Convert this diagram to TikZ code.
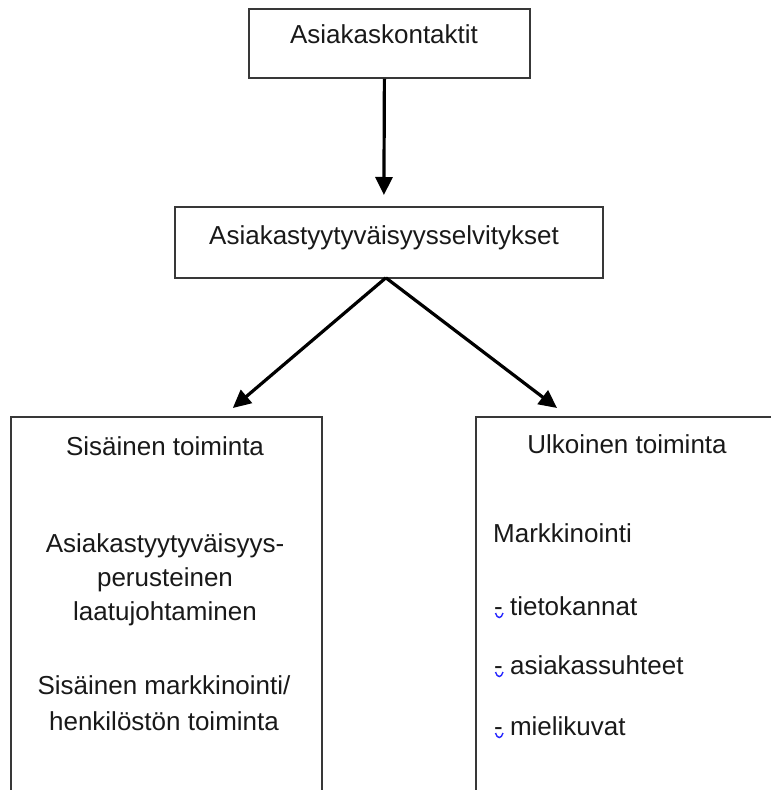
\documentclass[tikz,border=0pt]{standalone}
\usepackage{fontspec}
\setmainfont{Liberation Sans}
\usetikzlibrary{arrows.meta,calc}
\begin{document}
\begin{tikzpicture}[x=1pt,y=-1pt,
  box/.style={draw=black!78, line width=1.8pt, inner sep=0pt, anchor=north west},
  txt/.style={font=\fontsize{26}{34}\selectfont, text=black!90, inner sep=0pt},
  link/.style={line width=3.2pt, -{Triangle[length=18pt,width=17pt]}},
  squiggle/.style={draw=blue!85!white, line width=1.4pt},
]
\useasboundingbox (0,0) rectangle (771,790);
\clip (0,0) rectangle (771,790);

% boxes
\node[box, minimum width=281pt, minimum height=69pt] (top) at (248,8) {};
\node[box, minimum width=428pt, minimum height=71pt] (mid) at (174,206) {};
\node[box, minimum width=311pt, minimum height=420pt] (left) at (10,416) {};
\node[box, minimum width=330pt, minimum height=420pt] (right) at (475,416) {};

% titles
\node[txt, anchor=base] (ttop) at (384,43) {Asiakaskontaktit};
\node[txt, anchor=base] (tmid) at (384,244) {Asiakastyytyväisyysselvitykset};
\node[txt, anchor=base] (tleft) at (165,455) {Sisäinen toiminta};
\node[txt, anchor=base] (tright) at (627,453) {Ulkoinen toiminta};

% inner contents, left
\node[txt, anchor=base] (l1) at (165,552) {Asiakastyytyväisyys-};
\node[txt, anchor=base] (l2) at (165,586) {perusteinen};
\node[txt, anchor=base] (l3) at (165,620) {laatujohtaminen};
\node[txt, anchor=base] (l4) at (164,694) {Sisäinen markkinointi/};
\node[txt, anchor=base] (l5) at (164,730) {henkilöstön toiminta};

% inner contents, right
\node[txt, anchor=base west] (r0) at (493,542) {Markkinointi};
\node[txt, anchor=base west] (b1) at (494,615) {- tietokannat};
\node[txt, anchor=base west] (b2) at (494,674) {- asiakassuhteet};
\node[txt, anchor=base west] (b3) at (494,735) {- mielikuvat};

\foreach \n in {b1,b2,b3}{
  \draw[squiggle] ($(\n.base west)+(1.5,-2)$)
    .. controls ($(\n.base west)+(3,4)$) and ($(\n.base west)+(7.5,4)$)
    .. ($(\n.base west)+(9,-2)$);
}

% connectors
\draw[link] ($(top.south)+(-5,0)$) -- ($(mid.north)+(-5,-11)$);
\draw[link] ($(mid.south)+(-3,-1)$) -- ($(left.north east)+(-90,-8)$);
\draw[link] ($(mid.south)+(-3,-1)$) -- ($(right.north west)+(82,-8)$);
\end{tikzpicture}
\end{document}
